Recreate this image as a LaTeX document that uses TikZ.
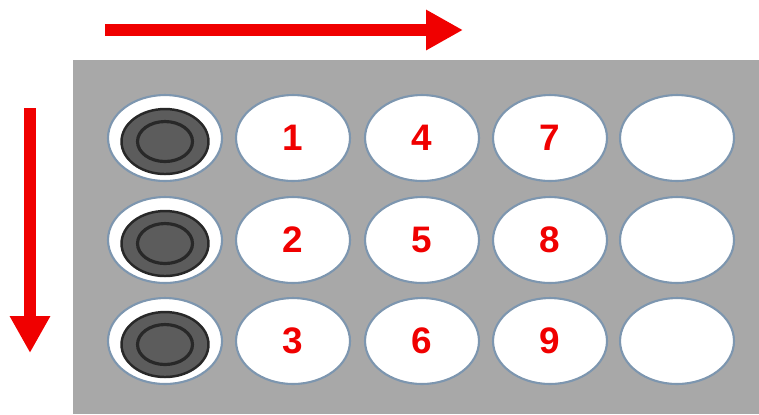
\documentclass[tikz,border=0pt]{standalone}
\usepackage{fontspec}
\setmainfont{Liberation Sans}
\usetikzlibrary{arrows.meta,positioning,shapes.geometric}
\definecolor{plategray}{RGB}{168,168,168}
\definecolor{wellrim}{RGB}{125,150,175}
\definecolor{discgray}{RGB}{92,92,92}
\definecolor{ringdark}{RGB}{40,40,40}
\definecolor{arrowred}{RGB}{240,0,0}

\begin{document}
\begin{tikzpicture}[
    x=0.02cm, y=-0.02cm,
    well/.style={ellipse, draw=wellrim, line width=1.2pt, fill=white, minimum width=2.28cm, minimum height=1.72cm, inner sep=0pt, font=\fontsize{21}{21}\selectfont\bfseries, text=arrowred},
    disc/.style={ellipse, draw=ringdark, line width=1.4pt, fill=discgray, minimum width=1.74cm, minimum height=1.3cm, inner sep=0pt},
    ring/.style={ellipse, draw=ringdark, line width=1.8pt, minimum width=1.1cm, minimum height=0.8cm, inner sep=0pt},
    flow/.style={-{Triangle[length=0.74cm, width=0.76cm]}, line width=0.24cm, draw=arrowred}
]
    \useasboundingbox (0,0) rectangle (759,414);

    % Plate
    \fill[plategray] (73,60) rectangle (759,414);

    % Wells, row by row
    \foreach \r/\yy in {1/138, 2/240, 3/341} {
        \node[well] (w\r-0) at (165,\yy) {};
        \node[disc] (d\r) at ([yshift=-2]w\r-0) {};
        \node[ring] (c\r) at (d\r) {};
        \foreach \c/\xx in {1/293, 2/422, 3/550} {
            \pgfmathtruncatemacro\n{3*(\c-1)+\r}
            \node[well] (w\r-\c) at (\xx,\yy) {\n};
        }
        \node[well] (w\r-4) at (677,\yy) {};
    }

    % Scan direction arrows
    \coordinate (h0) at (105,30);
    \coordinate (h1) at (463,30);
    \coordinate (v0) at (30,108);
    \coordinate (v1) at (30,353);
    \draw[flow] (h0) -- (h1);
    \draw[flow] (v0) -- (v1);
\end{tikzpicture}
\end{document}
